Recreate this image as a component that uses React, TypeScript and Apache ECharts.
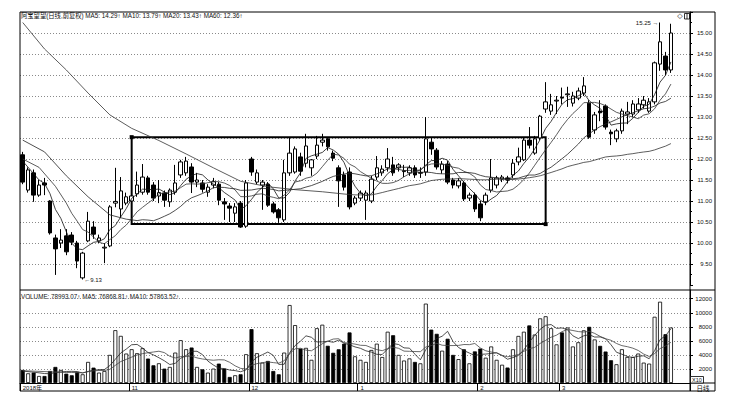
import React, { useEffect, useRef } from "react";
import * as echarts from "echarts";

const opens = [12.10,11.26,11.67,11.14,11.43,11.00,10.12,10.00,10.17,10.19,
10.00,9.17,10.05,10.38,10.05,9.88,9.93,10.95,10.81,10.95,
11.00,11.17,11.21,11.55,11.38,11.12,11.19,10.98,11.21,11.62,
11.67,11.81,11.45,11.43,11.21,11.38,11.40,10.98,10.88,10.71,
10.95,10.40,12.00,11.45,11.38,11.40,10.93,10.79,10.55,11.67,
11.69,12.05,11.90,11.79,12.07,12.40,12.48,12.14,11.79,11.62,
11.69,10.95,11.07,11.02,11.00,11.57,11.67,11.79,11.86,11.79,
11.70,11.67,11.79,11.66,11.69,12.40,12.21,11.74,11.88,11.50,
11.36,11.43,11.07,11.14,10.93,10.98,11.26,11.38,11.52,11.55,
11.62,11.93,11.98,12.45,12.14,12.50,13.19,13.14,13.38,13.47,
13.53,13.33,13.45,13.57,13.33,12.69,13.14,13.26,12.64,12.48,
12.67,13.07,13.07,13.17,13.29,13.14,13.36,14.26,14.45,14.12];

const closes = [11.45,11.74,11.14,11.38,11.38,10.24,9.86,10.07,9.79,10.02,
9.57,9.76,10.52,10.21,10.12,9.90,10.86,10.99,11.24,11.10,
11.12,11.38,11.57,11.21,11.07,11.20,11.02,11.26,11.43,11.93,
11.95,11.45,11.50,11.28,11.33,11.46,11.02,10.93,10.83,10.86,
10.38,11.43,11.69,11.67,11.45,10.90,10.74,10.60,11.67,12.14,
12.24,11.71,12.31,11.98,12.33,12.45,12.29,12.02,11.48,11.33,
10.86,11.07,11.19,11.19,11.52,11.79,11.76,12.00,11.67,11.86,
11.72,11.79,11.62,11.68,12.48,12.24,11.81,11.88,11.45,11.38,
11.48,11.05,11.14,10.81,10.60,11.14,11.55,11.55,11.57,11.50,
11.90,12.05,12.45,12.33,12.48,13.02,13.36,13.29,13.40,13.45,
13.55,13.50,13.62,13.74,12.52,13.05,13.10,12.76,12.60,12.67,
13.14,13.12,13.31,13.31,13.40,13.36,14.29,14.79,14.12,15.00];

const lows = [11.40,11.20,10.98,11.10,11.14,10.20,9.24,9.88,9.71,9.95,
9.40,9.13,10.02,10.10,10.00,9.52,9.90,10.85,10.60,10.90,
10.93,11.10,11.15,11.15,11.00,10.95,10.86,10.86,11.15,11.55,
11.60,11.19,11.33,11.20,11.10,11.30,10.90,10.55,10.50,10.50,
10.36,10.36,11.60,11.40,10.79,10.86,10.70,10.48,10.50,11.60,
11.65,11.60,11.80,11.60,12.00,12.30,12.20,11.95,10.86,11.25,
10.80,10.90,11.00,10.55,10.95,11.50,11.60,11.70,11.60,11.70,
11.57,11.60,11.55,11.55,11.60,12.10,11.75,11.65,11.40,11.30,
11.30,11.00,11.00,10.74,10.52,10.90,11.20,11.30,11.45,11.42,
11.55,11.85,11.95,12.25,12.10,12.45,13.10,13.05,13.07,13.30,
13.24,13.25,13.40,13.50,12.48,12.60,12.90,12.70,12.33,12.40,
12.60,12.83,13.00,13.10,13.20,13.10,13.30,14.10,14.00,14.05];

const highs = [12.17,11.80,11.75,11.50,11.55,11.02,10.20,10.33,10.33,10.26,
10.05,9.79,10.74,10.52,10.20,10.00,10.90,11.79,11.57,11.20,
11.20,11.70,11.88,11.60,11.45,11.50,11.25,11.30,11.86,11.98,
12.05,11.90,11.67,11.50,11.40,11.55,11.45,11.07,10.95,10.95,
11.00,11.50,12.05,11.75,11.50,11.45,10.98,10.83,11.98,12.52,
12.30,12.15,12.60,12.00,12.55,12.60,12.52,12.20,11.85,11.70,
11.80,11.12,11.25,11.25,11.60,12.07,11.85,12.26,12.05,11.90,
11.86,11.85,11.85,11.80,13.00,12.50,12.26,11.95,11.95,11.55,
11.55,11.48,11.20,11.20,11.00,11.20,12.00,11.60,11.62,11.60,
12.00,12.27,12.50,12.76,12.55,13.05,13.83,13.55,13.50,13.70,
13.72,13.60,13.70,13.95,13.40,13.12,13.40,13.30,12.70,12.72,
13.20,13.36,13.40,13.45,13.50,13.45,14.32,15.25,14.55,15.22];

// volume in axis units (x10)
const volumes = [1860,1380,1480,1000,1000,1710,2290,1860,1330,1100,
1570,1240,3000,2190,1480,1710,4000,7520,6710,4190,
4810,4240,4950,3480,2520,2810,2050,2290,4330,6100,
4810,5050,2290,1950,1480,2050,2760,2050,860,1100,
1240,4100,7670,4240,2900,3140,1710,1240,4330,11100,
8240,4900,5000,3300,7800,8300,5300,4300,4800,5600,
7200,3800,3300,3000,4700,5600,3700,7300,6800,4000,
3200,3500,3000,2800,11300,7600,7000,4600,6300,4000,
3400,4800,2800,4500,4900,3600,5200,3300,2600,2200,
4800,6700,7300,8200,6900,9200,9500,7800,5500,7200,
7900,5200,5800,7500,8000,6200,5290,4480,3240,2670,
4810,3710,3710,4190,2900,2760,9430,11570,6950,7900];

const ma5Lead = [[0, 11.95], [2, 11.65], [3, 11.5]];
const ma10Lead = [[0, 12.0], [3, 11.8], [6, 11.35], [8, 10.95]];
const ma20Lead = [[0, 12.45], [4, 12.17], [8, 11.6], [12, 11.1], [16, 10.67]];
const ma60Lead = [[0, 15.25], [4, 14.62], [8, 14.12], [12, 13.57], [16, 13.05], [20, 12.73], [25, 12.44], [30, 12.12], [35, 11.79], [40, 11.47], [45, 11.34], [50, 11.27], [55, 11.22]];
const vol5Lead = [[0, 1700], [3, 1450]];
const vol10Lead = [[0, 1750], [8, 1500]];

const monthMarks: [number, string][] = [[0, "2018年"], [20, "11"], [42, "12"], [62, "1"], [84, "2"], [99, "3"]];

const boxCorners = { startIdx: 20, endIdx: 96, top: 12.52, bottom: 10.45 };
const lowMark = { idx: 11, value: 9.13 };
const highMark = { idx: 117, value: 15.25 };

const headerText = "阿宝望望(日线,前复权) MA5: 14.29↑ MA10: 13.79↑ MA20: 13.43↑ MA60: 12.36↑";
const volumeHeaderText = "VOLUME: 78993.07↑ MA5: 76868.81↑ MA10: 57863.52↑";

const SLOT_COUNT = 123;
const categories = Array.from({ length: SLOT_COUNT }, (_, i) => String(i));

const FONT = '"Liberation Sans", "Noto Sans CJK SC", sans-serif';

function movingAverage(values: number[], n: number, lead: number[][]) {
  const out: (number | null)[] = values.map(() => null);
  lead.forEach(([i, v]) => {
    out[i] = v;
  });
  for (let i = n - 1; i < values.length; i++) {
    let s = 0;
    for (let k = i - n + 1; k <= i; k++) s += values[k];
    out[i] = Math.round((s / n) * 1000) / 1000;
  }
  return out;
}

export default function App() {
  const ref = useRef<HTMLDivElement>(null);
  useEffect(() => {
    const chart = echarts.init(ref.current!, null, { renderer: "svg" });
    const markAt = new Map<number, string>(monthMarks);
    const line = (name: string, data: any[], color: string, xi: number, yi: number) => ({
      type: "line",
      name,
      data,
      xAxisIndex: xi,
      yAxisIndex: yi,
      symbol: "none",
      showSymbol: false,
      connectNulls: true,
      silent: true,
      z: 3,
      lineStyle: { color, width: 0.8 },
      itemStyle: { color },
    });
    const L = (x1: number, y1: number, x2: number, y2: number, w = 1) => ({
      type: "line",
      silent: true,
      z: 100,
      shape: { x1, y1, x2, y2 },
      style: { stroke: "#000", lineWidth: w },
    });
    const grayDots = { color: "#8a8a8a", width: 1, type: [1, 2] };
    const axisLabelBase = { fontSize: 6, color: "#111", fontFamily: FONT, align: "right", margin: 22 };

    const option: any = {
      animation: false,
      backgroundColor: "#fff",
      grid: [
        { left: 20, right: 47, top: 12, height: 273 },
        { left: 20, right: 47, top: 290, height: 93 },
      ],
      xAxis: [
        { type: "category", gridIndex: 0, data: categories, boundaryGap: true, show: false },
        {
          type: "category",
          gridIndex: 1,
          data: categories,
          boundaryGap: true,
          axisLine: { lineStyle: { color: "#000", width: 1 } },
          axisTick: { show: true, length: 8, interval: (i: number) => markAt.has(i), lineStyle: { color: "#000" } },
          axisLabel: {
            interval: (i: number) => markAt.has(i),
            formatter: (_v: string, i: number) => markAt.get(i) ?? "",
            align: "left",
            margin: 2,
            fontSize: 6,
            color: "#111",
            fontFamily: FONT,
          },
          splitLine: { show: false },
        },
      ],
      yAxis: [
        {
          type: "value",
          gridIndex: 0,
          position: "right",
          min: 9,
          max: 15.5,
          interval: 0.5,
          axisLine: { show: true, lineStyle: { color: "#000" } },
          axisTick: { show: true, length: 3, lineStyle: { color: "#000" } },
          minorTick: { show: true, splitNumber: 2, length: 2, lineStyle: { color: "#000" } },
          splitLine: { show: true, showMinLine: false, showMaxLine: false, lineStyle: grayDots },
          axisLabel: { ...axisLabelBase, showMinLabel: false, showMaxLabel: false, formatter: (v: number) => v.toFixed(2) },
        },
        {
          type: "value",
          gridIndex: 1,
          position: "right",
          min: 0,
          max: 13240,
          interval: 2000,
          axisLine: { show: true, lineStyle: { color: "#000" } },
          axisTick: { show: true, length: 3, lineStyle: { color: "#000" } },
          splitLine: { show: true, showMinLine: false, showMaxLine: false, lineStyle: grayDots },
          axisLabel: { ...axisLabelBase, showMinLabel: false, showMaxLabel: false, formatter: (v: number) => String(Math.round(v)) },
        },
      ],
      series: [
        {
          type: "candlestick",
          xAxisIndex: 0,
          yAxisIndex: 0,
          barWidth: 4,
          data: opens.map((o, i) => [o, closes[i], lows[i], highs[i]]),
          itemStyle: { color: "#fff", color0: "#000", borderColor: "#000", borderColor0: "#000", borderWidth: 1 },
          markArea: {
            silent: true,
            itemStyle: { color: "rgba(0,0,0,0)", borderColor: "#000", borderWidth: 2 },
            data: [[{ coord: [boxCorners.startIdx, boxCorners.top] }, { coord: [boxCorners.endIdx, boxCorners.bottom] }]],
          },
          markPoint: {
            silent: true,
            data: [
              { coord: [boxCorners.startIdx, boxCorners.top], symbol: "rect", symbolSize: 4, itemStyle: { color: "#000" }, label: { show: false } },
              { coord: [boxCorners.endIdx, boxCorners.bottom], symbol: "rect", symbolSize: 4, itemStyle: { color: "#000" }, label: { show: false } },
              {
                coord: [lowMark.idx, lowMark.value],
                symbol: "rect",
                symbolSize: 1,
                itemStyle: { color: "rgba(0,0,0,0)" },
                label: { show: true, position: "right", distance: 1, formatter: "←" + lowMark.value.toFixed(2), fontSize: 6, color: "#111", fontFamily: FONT },
              },
              {
                coord: [highMark.idx, highMark.value],
                symbol: "rect",
                symbolSize: 1,
                itemStyle: { color: "rgba(0,0,0,0)" },
                label: { show: true, position: "left", distance: 1, formatter: highMark.value.toFixed(2) + " →", fontSize: 6, color: "#111", fontFamily: FONT },
              },
            ],
          },
        },
        line("MA5", movingAverage(closes, 5, ma5Lead), "#111", 0, 0),
        line("MA10", movingAverage(closes, 10, ma10Lead), "#333", 0, 0),
        line("MA20", movingAverage(closes, 20, ma20Lead), "#222", 0, 0),
        line("MA60", movingAverage(closes, 60, ma60Lead), "#333", 0, 0),
        {
          type: "bar",
          xAxisIndex: 1,
          yAxisIndex: 1,
          barWidth: 4,
          silent: true,
          data: volumes.map((v, i) => ({
            value: v,
            itemStyle: { color: closes[i] >= opens[i] ? "#fff" : "#000", borderColor: "#000", borderWidth: 0.8 },
          })),
        },
        line("VMA5", movingAverage(volumes, 5, vol5Lead), "#222", 1, 1),
        line("VMA10", movingAverage(volumes, 10, vol10Lead), "#444", 1, 1),
      ],
      graphic: [
        L(20, 12, 715, 12),
        L(20, 12, 20, 391),
        L(690, 12, 690, 391),
        L(715, 12, 715, 391),
        L(20, 290, 715, 290),
        L(690, 383, 715, 383),
        L(20, 391, 715, 391),
        {
          type: "text",
          x: 21,
          y: 15.5,
          silent: true,
          style: { text: headerText, fontSize: 6.3, fill: "#111", fontFamily: FONT, verticalAlign: "middle", align: "left" },
        },
        {
          type: "text",
          x: 21,
          y: 296,
          silent: true,
          style: { text: volumeHeaderText, fontSize: 6.3, fill: "#111", fontFamily: FONT, verticalAlign: "middle", align: "left" },
        },
        {
          type: "text",
          x: 680,
          y: 16,
          silent: true,
          style: { text: "◇", fontSize: 7, fill: "#111", fontFamily: '"DejaVu Sans", sans-serif', verticalAlign: "middle", align: "center" },
        },
        { type: "rect", silent: true, shape: { x: 684.5, y: 13.5, width: 5, height: 5.5 }, style: { fill: "#fff", stroke: "#000", lineWidth: 0.8 } },
        L(687, 13.5, 687, 19, 0.8),
        { type: "rect", silent: true, z: 100, shape: { x: 690.5, y: 376.5, width: 13, height: 6.5 }, style: { fill: "#fff", stroke: "#000", lineWidth: 0.8 } },
        {
          type: "text",
          x: 697,
          y: 380,
          z: 101,
          silent: true,
          style: { text: "X10", fontSize: 5.5, fill: "#111", fontFamily: FONT, verticalAlign: "middle", align: "center" },
        },
        {
          type: "text",
          x: 703,
          y: 387.5,
          silent: true,
          style: { text: "日线", fontSize: 6.5, fill: "#111", fontFamily: '"Noto Sans CJK SC", sans-serif', verticalAlign: "middle", align: "center" },
        },
      ],
    };
    chart.setOption(option);
    return () => chart.dispose();
  }, []);
  return <div ref={ref} style={{ position: "absolute", left: 0, top: 0, width: 737, height: 401 }} />;
}
